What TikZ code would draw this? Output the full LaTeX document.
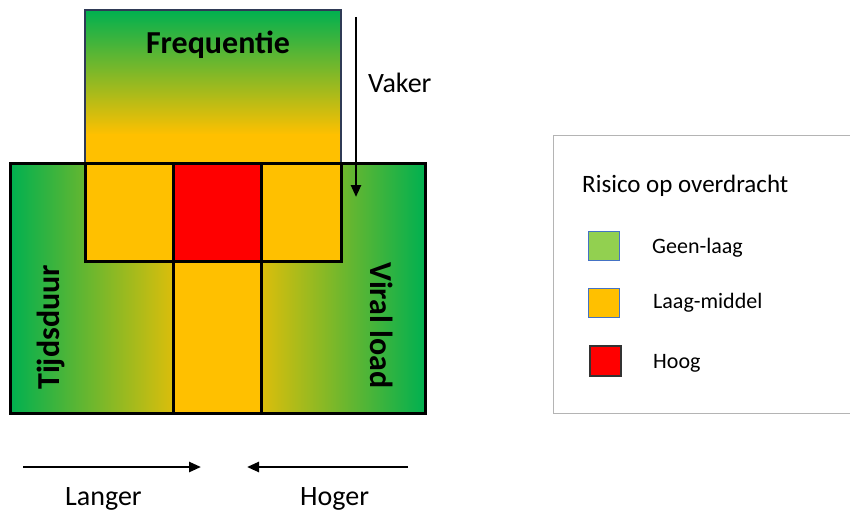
\documentclass[tikz,border=0pt]{standalone}
\usepackage{fontspec}
\setmainfont{Carlito}
\usetikzlibrary{arrows.meta}
\definecolor{xlgreen}{HTML}{00B050}
\definecolor{xlorange}{HTML}{FFC000}
\definecolor{xlred}{HTML}{FF0000}
\definecolor{lgreen}{HTML}{92D050}
\definecolor{lblue}{HTML}{4472C4}
\definecolor{topedge}{HTML}{2F3A56}
\definecolor{leggray}{HTML}{B4B4B4}
\begin{document}
\begin{tikzpicture}[x=1pt,y=-1pt,
  bigtxt/.style={font=\fontsize{32}{37}\selectfont\bfseries, inner sep=0pt},
  midtxt/.style={font=\fontsize{28}{33}\selectfont, inner sep=0pt},
  legtitle/.style={font=\fontsize{25}{29}\selectfont, inner sep=0pt},
  legtxt/.style={font=\fontsize{22}{26}\selectfont, inner sep=0pt},
  heavy/.style={line width=3pt},
  arr/.style={line width=2.5pt, -{Triangle[length=12pt,width=10pt]}}]
\useasboundingbox (0,0) rectangle (850,511);
% large box gradient
\shade[left color=xlgreen, right color=xlorange] (10,163) rectangle (200,413);
\shade[left color=xlorange, right color=xlgreen] (235,163) rectangle (425,413);
% top box gradient
\shade[top color=xlgreen, bottom color=xlorange] (85,10) rectangle (341,135);
\fill[xlorange] (85,134) rectangle (341,163);
\draw[line width=1.5pt, topedge] (85,10) rectangle (341,163);
% cells
\fill[xlorange] (85,163) rectangle (341,261);
\fill[xlred] (175,163) rectangle (261,261);
\fill[xlorange] (174,261) rectangle (261,413);
\draw[heavy] (85,163) rectangle (341,261);
\draw[heavy] (173.5,163) -- (173.5,413);
\draw[heavy] (261.5,163) -- (261.5,413);
\draw[heavy] (10,163) rectangle (425,413);
% texts
\node[bigtxt, anchor=base] (freq) at (218,53) {Frequentie};
\node[bigtxt, anchor=base west, rotate=90] (tijd) at (59,390) {Tijdsduur};
\node[bigtxt, anchor=base west, rotate=-90] (viral) at (370,262) {Viral load};
\node[midtxt, anchor=base west] (vaker) at (368,92) {Vaker};
\node[midtxt, anchor=base west] (langer) at (65,505) {Langer};
\node[midtxt, anchor=base west] (hoger) at (300,505) {Hoger};
% arrows
\coordinate (vs) at (356,17);
\coordinate (ve) at (356,197);
\draw[arr] (vs) -- (ve);
\coordinate (ls) at (23,467);
\coordinate (le) at (201,467);
\draw[arr] (ls) -- (le);
\coordinate (hs) at (408,467);
\coordinate (he) at (247,467);
\draw[arr] (hs) -- (he);
% legend
\draw[leggray, line width=1pt] (553,135) rectangle (856,413);
\node[legtitle, anchor=base west] (ltitle) at (582,192) {Risico op overdracht};
\draw[lblue, line width=1pt, fill=lgreen] (588,231) rectangle (619,260);
\draw[lblue, line width=1pt, fill=xlorange] (588,288) rectangle (619,317);
\draw[black!80, line width=1.5pt, fill=xlred] (590,346) rectangle (621,376);
\node[legtxt, anchor=base west] (lg) at (652,253) {Geen-laag};
\node[legtxt, anchor=base west] (lo) at (653,308) {Laag-middel};
\node[legtxt, anchor=base west] (lr) at (653,368) {Hoog};
\end{tikzpicture}
\end{document}
